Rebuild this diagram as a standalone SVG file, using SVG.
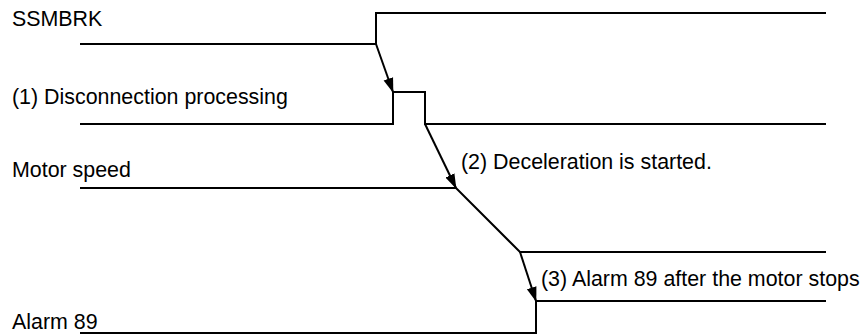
<svg xmlns="http://www.w3.org/2000/svg" width="862" height="334" viewBox="0 0 862 334">
<style>
  .lbl { font-family: "Liberation Sans", Arial, sans-serif; font-size: 21.4px; fill: #000; }
  .wave { fill: none; stroke: #000; stroke-width: 2; stroke-linejoin: miter; }
  .arr { fill: none; stroke: #000; stroke-width: 2; marker-end: url(#ah); }
</style>
<defs>
  <marker id="ah" markerUnits="userSpaceOnUse" markerWidth="15" markerHeight="12" refX="14" refY="5" orient="auto" viewBox="0 0 15 10">
    <path d="M0,0 L15,5 L0,10 z" fill="#000"/>
  </marker>
</defs>
<rect width="862" height="334" fill="#fff"/>
<g id="ssmbrk">
  <text class="lbl" x="12" y="26">SSMBRK</text>
  <polyline class="wave" points="80,44 376,44 376,13 826,13"/>
</g>
<g id="disconnection">
  <text class="lbl" x="12" y="104">(1) Disconnection processing</text>
  <polyline class="wave" points="80,124 393,124 393,92 425,92 425,124 826,124"/>
</g>
<g id="motor-speed">
  <text class="lbl" x="12" y="177">Motor speed</text>
  <polyline class="wave" points="80,188 456,188 520,252 826,252"/>
</g>
<g id="alarm89">
  <text class="lbl" x="12" y="329">Alarm 89</text>
  <polyline class="wave" points="80,333 536,333 536,301 826,301"/>
</g>
<g id="connectors">
  <line class="arr" x1="376" y1="44" x2="393" y2="92"/>
  <line class="arr" x1="425" y1="124" x2="456" y2="188"/>
  <line class="arr" x1="520" y1="252" x2="536" y2="301"/>
  <text class="lbl" x="461" y="169">(2) Deceleration is started.</text>
  <text class="lbl" x="541" y="286">(3) Alarm 89 after the motor stops</text>
</g>
</svg>
